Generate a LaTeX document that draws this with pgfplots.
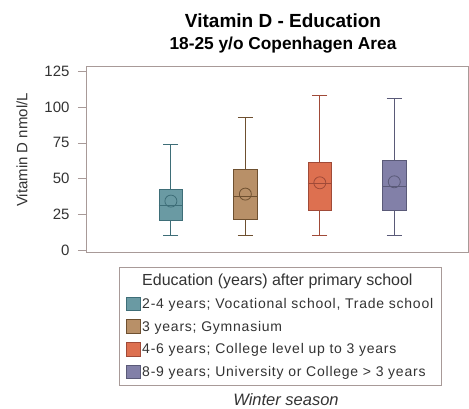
\documentclass[border=0pt]{standalone}
\usepackage{fontspec}
\setmainfont{Liberation Sans}
\usepackage{pgfplots}
\pgfplotsset{compat=1.18}
\usepgfplotslibrary{statistics}
\definecolor{cA}{HTML}{6A9AA3}\definecolor{dA}{HTML}{3E6E78}
\definecolor{cB}{HTML}{B89068}\definecolor{dB}{HTML}{6E5030}
\definecolor{cC}{HTML}{DD7050}\definecolor{dC}{HTML}{A04A38}
\definecolor{cD}{HTML}{8280A8}\definecolor{dD}{HTML}{5A5A78}
\definecolor{frm}{HTML}{A89A98}
\definecolor{txt}{HTML}{333333}
\begin{document}
\begin{tikzpicture}
\begin{axis}[
  at={(0,0)}, anchor=south west,
  scale only axis, width=382pt, height=186pt,
  xmin=-0.14, xmax=4.99, ymin=-1.4, ymax=128.7,
  axis line style={frm},
  xtick=\empty,
  ytick={0,25,50,75,100,125},
  ytick pos=left, tick align=outside,
  major tick length=8pt,
  tick style={frm},
  /pgf/number format/assume math mode=true,
  yticklabel style={font=\fontsize{15}{17}\selectfont, text=txt, xshift=-5pt},
  boxplot/draw direction=y,
  boxplot/box extend=0.32,
  boxplot/whisker extend=0.2,
  legend style={at={(0.509,-0.08)}, anchor=north, draw=frm, line width=0.6pt,
    font=\fontsize{14}{16}\selectfont\addfontfeatures{LetterSpace=5.5}, text=txt,
    row sep=7pt, inner xsep=6pt, inner ysep=5pt},
  legend cell align=left,
  legend image code/.code={\draw[#1] (0pt,-6.5pt) rectangle (14pt,7pt);},
]
\addlegendimage{empty legend}
\addlegendentry{\fontsize{16}{18}\selectfont\addfontfeatures{LetterSpace=0}Education (years) after primary school}
\addlegendimage{fill=cA, draw=dA}
\addlegendentry{2-4 years; Vocational school, Trade school}
\addlegendimage{fill=cB, draw=dB}
\addlegendentry{3 years; Gymnasium}
\addlegendimage{fill=cC, draw=dC}
\addlegendentry{4-6 years; College level up to 3 years}
\addlegendimage{fill=cD, draw=dD}
\addlegendentry{8-9 years; University or College > 3 years}

\addplot+[forget plot, mark=none, draw=dA, fill=cA, line width=0.8pt, boxplot prepared={draw position=1,
  lower whisker=10, lower quartile=20.5, median=31, upper quartile=42.4, upper whisker=74}] coordinates {};
\addplot+[forget plot, mark=none, draw=dB, fill=cB, line width=0.8pt, boxplot prepared={draw position=2,
  lower whisker=10, lower quartile=21.6, median=37.2, upper quartile=56.3, upper whisker=92.9}] coordinates {};
\addplot+[forget plot, mark=none, draw=dC, fill=cC, line width=0.8pt, boxplot prepared={draw position=3,
  lower whisker=10, lower quartile=27.9, median=46.5, upper quartile=61.5, upper whisker=108.2}] coordinates {};
\addplot+[forget plot, mark=none, draw=dD, fill=cD, line width=0.8pt, boxplot prepared={draw position=4,
  lower whisker=10, lower quartile=27.9, median=44.7, upper quartile=62.4, upper whisker=105.9}] coordinates {};

\addplot[forget plot, only marks, mark=o, mark size=6pt, mark options={draw=dA, line width=0.8pt}] coordinates {(1,34.2)};
\addplot[forget plot, only marks, mark=o, mark size=6pt, mark options={draw=dB, line width=0.8pt}] coordinates {(2,39.1)};
\addplot[forget plot, only marks, mark=o, mark size=6pt, mark options={draw=dC, line width=0.8pt}] coordinates {(3,47)};
\addplot[forget plot, only marks, mark=o, mark size=6pt, mark options={draw=dD, line width=0.8pt}] coordinates {(4,47.7)};
\end{axis}
\node[font=\bfseries\fontsize{19}{21}\selectfont, text=black] at (197pt,231pt) {Vitamin D - Education};
\node[font=\bfseries\fontsize{17.3}{19}\selectfont, text=black] at (197pt,207pt) {18-25 y/o Copenhagen Area};
\node[rotate=90, font=\fontsize{15}{17}\selectfont, text=txt] at (-64pt,102pt) {Vitamin D nmol/L};
\node[font=\itshape\fontsize{16.5}{18}\selectfont, text=txt] at (200pt,-148pt) {Winter season};
\pgfresetboundingbox
\useasboundingbox (-86pt,-157pt) rectangle (383pt,252pt);
\end{tikzpicture}
\end{document}
